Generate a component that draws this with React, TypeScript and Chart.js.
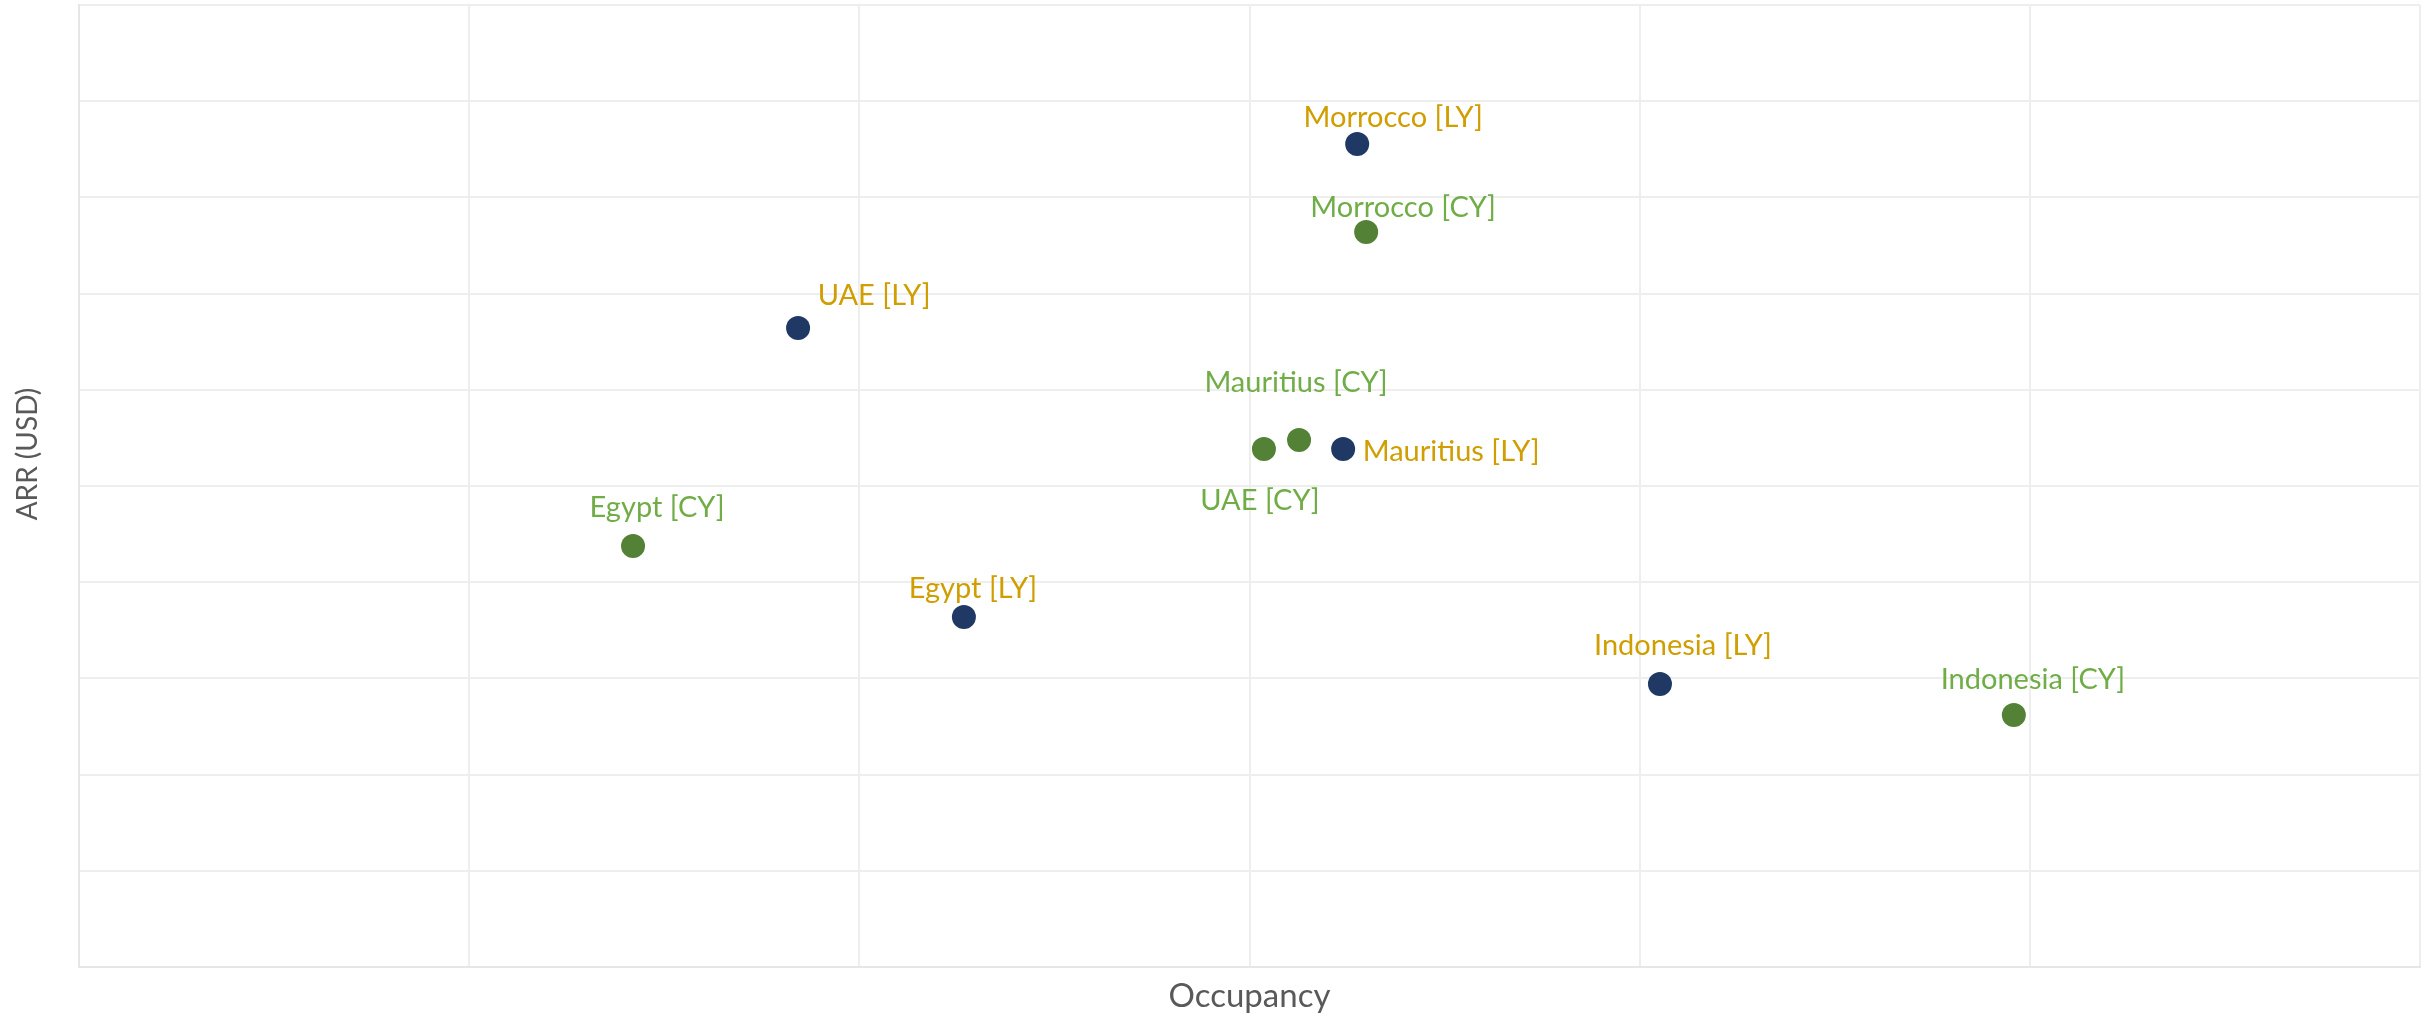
import React, { useEffect, useRef } from 'react';
import { Chart, registerables } from 'chart.js';

Chart.register(...registerables);

// Data (axis units: occupancy 0..6 grid steps, ARR 0..10 grid steps; no tick labels shown)
const countries = ['Morrocco', 'UAE', 'Mauritius', 'Egypt', 'Indonesia'];
const occupancyLY = [3.276, 1.843, 3.24, 2.268, 4.052];
const arrLY = [8.555, 6.642, 5.385, 3.638, 2.942];
const occupancyCY = [3.299, 3.037, 3.127, 1.42, 4.959];
const arrCY = [7.64, 5.385, 5.478, 4.376, 2.62];
const seriesNames = ['LY', 'CY'];

// Label placement (pixel offsets from the point: dx to text centre, dy to baseline)
const LY_LABEL_OFFSETS = [[36, -17], [76, -23], [108, 12], [9, -19], [23, -29]];
const CY_LABEL_OFFSETS = [[37, -15], [-4, 61], [-3, -48], [24, -29], [19, -26]];

const FONT = 'Lato, "Open Sans", "DejaVu Sans", sans-serif';
const GRID = '#EEEEEE';

const labelPlugin = {
  id: 'pointLabels',
  afterDatasetsDraw(chart: any) {
    const ctx = chart.ctx;
    ctx.save();
    ctx.font = `29px ${FONT}`;
    ctx.textAlign = 'center';
    ctx.textBaseline = 'alphabetic';
    chart.data.datasets.forEach((ds: any, i: number) => {
      const meta = chart.getDatasetMeta(i);
      ctx.fillStyle = ds.labelColor;
      meta.data.forEach((pt: any, j: number) => {
        const [dx, dy] = ds.labelOffsets[j];
        ctx.fillText(`${countries[j]} [${ds.label}]`, pt.x + dx, pt.y + dy);
      });
    });
    ctx.restore();
  },
};

const axisTitlePlugin = {
  id: 'axisTitles',
  afterDraw(chart: any) {
    const ctx = chart.ctx;
    const a = chart.chartArea;
    ctx.save();
    ctx.fillStyle = '#595959';
    ctx.font = `33px ${FONT}`;
    ctx.textAlign = 'center';
    ctx.textBaseline = 'alphabetic';
    ctx.fillText('Occupancy', (a.left + a.right) / 2, a.bottom + 40);
    ctx.translate(37, (a.top + a.bottom) / 2 - 32);
    ctx.rotate(-Math.PI / 2);
    ctx.font = `28px ${FONT}`;
    ctx.fillText('ARR (USD)', 0, 0);
    ctx.restore();
  },
};

export default function App() {
  const ref = useRef<HTMLCanvasElement>(null);

  useEffect(() => {
    if (!ref.current) return;
    const chart = new Chart(ref.current, {
      type: 'scatter',
      data: {
        datasets: [
          {
            label: seriesNames[0],
            data: occupancyLY.map((x, i) => ({ x, y: arrLY[i] })),
            backgroundColor: '#1F3864',
            pointRadius: 12,
            pointHoverRadius: 12,
            pointBorderWidth: 0,
            labelColor: '#D09E00',
            labelOffsets: LY_LABEL_OFFSETS,
          } as any,
          {
            label: seriesNames[1],
            data: occupancyCY.map((x, i) => ({ x, y: arrCY[i] })),
            backgroundColor: '#538135',
            pointRadius: 12,
            pointHoverRadius: 12,
            pointBorderWidth: 0,
            labelColor: '#70AD47',
            labelOffsets: CY_LABEL_OFFSETS,
          } as any,
        ],
      },
      options: {
        animation: false,
        responsive: false,
        devicePixelRatio: 1,
        layout: { autoPadding: false, padding: { left: 79, top: 5, right: 10, bottom: 50 } },
        plugins: { legend: { display: false }, tooltip: { enabled: false } },
        scales: {
          x: {
            type: 'linear',
            min: 0,
            max: 6,
            ticks: { display: false, stepSize: 1 },
            grid: { color: GRID, lineWidth: 2, drawTicks: false },
            border: { display: true, color: '#E6E6E6', width: 2 },
          },
          y: {
            type: 'linear',
            min: 0,
            max: 10,
            ticks: { display: false, stepSize: 1 },
            grid: { color: GRID, lineWidth: 2, drawTicks: false },
            border: { display: true, color: '#E6E6E6', width: 2 },
          },
        },
      },
      plugins: [labelPlugin, axisTitlePlugin],
    });
    return () => chart.destroy();
  }, []);

  return (
    <canvas
      ref={ref}
      width={2430}
      height={1017}
      style={{ position: 'absolute', left: 0, top: 0, width: 2430, height: 1017, display: 'block' }}
    />
  );
}
